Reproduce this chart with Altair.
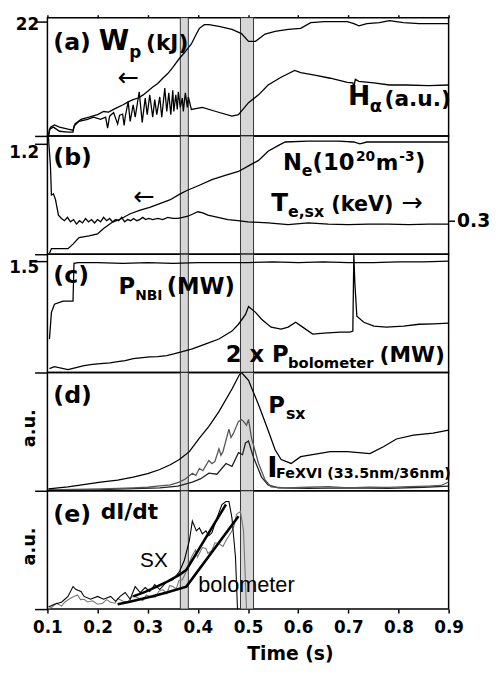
import altair as alt
import pandas as pd

# ---------------- shared ----------------
TIME_TICKS = [0.1, 0.2, 0.3, 0.4, 0.5, 0.6, 0.7, 0.8, 0.9]
BAND_START = [0.365, 0.485]
BAND_END = [0.381, 0.511]

# ---------------- (a) ----------------
WP_T = [0.102, 0.106, 0.114, 0.124, 0.141, 0.151, 0.155, 0.167, 0.183, 0.200, 0.212, 0.222, 0.232,
        0.242, 0.251, 0.262, 0.271, 0.281, 0.291, 0.300, 0.310, 0.320, 0.330, 0.340, 0.350, 0.363,
        0.373, 0.387, 0.397, 0.403, 0.413, 0.422, 0.442, 0.468, 0.487, 0.501, 0.515, 0.534, 0.554,
        0.580, 0.605, 0.625, 0.652, 0.698, 0.711, 0.721, 0.737, 0.762, 0.782, 0.810, 0.841, 0.869, 0.900]
WP_V = [0.0, 1.7, 2.1, 1.7, 1.3, 1.1, 2.3, 3.2, 3.6, 4.1, 4.7, 4.6, 5.1,
        5.6, 6.0, 6.6, 7.0, 7.3, 7.9, 8.6, 9.4, 10.1, 11.1, 12.0, 13.2, 14.9,
        16.0, 17.7, 19.6, 20.7, 21.4, 21.4, 21.1, 20.5, 19.7, 18.2, 18.2, 19.6, 20.1,
        20.5, 20.7, 21.8, 22.0, 22.0, 21.6, 21.2, 21.6, 21.8, 22.2, 21.8, 21.6, 21.6, 21.6]

HA_T = [0.102, 0.104, 0.112, 0.124, 0.141, 0.151, 0.153, 0.163, 0.180, 0.192, 0.206, 0.216, 0.220,
        0.224, 0.232, 0.240, 0.244, 0.250, 0.253, 0.255, 0.261, 0.265, 0.271, 0.275, 0.283, 0.289,
        0.295, 0.299, 0.304, 0.310, 0.314, 0.318, 0.324, 0.328, 0.334, 0.338, 0.342, 0.346, 0.350,
        0.352, 0.356, 0.359, 0.361, 0.365, 0.369, 0.371, 0.375, 0.379, 0.381, 0.387, 0.409, 0.436,
        0.468, 0.481, 0.501, 0.521, 0.540, 0.566, 0.593, 0.605, 0.633, 0.664, 0.698, 0.709, 0.711,
        0.714, 0.721, 0.751, 0.782, 0.815, 0.860, 0.900]
HA_V = [0.0, 1.3, 1.7, 0.9, 0.75, 0.75, 1.9, 2.8, 3.2, 3.6, 3.2, 3.6, 1.5,
        3.8, 4.5, 2.3, 4.0, 4.2, 2.0, 3.6, 6.6, 2.8, 6.0, 3.6, 8.5, 2.6,
        7.3, 4.1, 7.9, 3.6, 7.0, 4.1, 7.5, 3.6, 9.2, 4.7, 8.3, 4.1, 8.8,
        4.7, 7.9, 5.1, 8.5, 5.5, 7.3, 4.7, 8.3, 5.5, 7.5, 5.1, 5.5, 4.7,
        3.8, 4.1, 6.4, 7.9, 9.8, 11.3, 12.6, 12.2, 11.7, 11.1, 10.3, 10.2, 9.4,
        10.9, 10.5, 10.2, 9.8, 9.8, 9.7, 9.8]

# ---------------- (b) ----------------
NE_T = [0.104, 0.108, 0.141, 0.151, 0.163, 0.183, 0.200, 0.212, 0.230, 0.245, 0.265, 0.285, 0.304,
        0.324, 0.344, 0.363, 0.377, 0.403, 0.428, 0.456, 0.481, 0.501, 0.521, 0.540, 0.560, 0.574,
        0.619, 0.680, 0.711, 0.723, 0.737, 0.800, 0.900]
NE_V = [0.01, 0.06, 0.06, 0.11, 0.18, 0.20, 0.22, 0.28, 0.35, 0.38, 0.44, 0.48, 0.51,
        0.55, 0.59, 0.65, 0.69, 0.75, 0.81, 0.86, 0.90, 0.96, 1.02, 1.12, 1.18, 1.22,
        1.23, 1.23, 1.22, 1.20, 1.22, 1.22, 1.22]

TE_T = [0.102, 0.106, 0.108, 0.112, 0.116, 0.122, 0.128, 0.134, 0.140, 0.146, 0.152, 0.158, 0.164,
        0.170, 0.176, 0.182, 0.188, 0.194, 0.200, 0.206, 0.212, 0.218, 0.224, 0.230, 0.236, 0.242,
        0.248, 0.254, 0.260, 0.266, 0.272, 0.278, 0.284, 0.290, 0.296, 0.302, 0.310, 0.320, 0.330,
        0.340, 0.350, 0.360, 0.370, 0.380, 0.390, 0.400, 0.410, 0.420, 0.440, 0.460, 0.480, 0.500,
        0.540, 0.580, 0.620, 0.660, 0.700, 0.740, 0.780, 0.820, 0.860, 0.900]
TE_V = [1.05, 0.79, 0.53, 0.54, 0.49, 0.35, 0.32, 0.30, 0.33, 0.29, 0.31, 0.27, 0.30,
        0.28, 0.32, 0.29, 0.31, 0.28, 0.31, 0.29, 0.33, 0.30, 0.32, 0.29, 0.31, 0.30,
        0.33, 0.29, 0.31, 0.30, 0.32, 0.30, 0.31, 0.33, 0.31, 0.32, 0.31, 0.32, 0.31,
        0.33, 0.32, 0.32, 0.33, 0.34, 0.36, 0.38, 0.37, 0.35, 0.33, 0.31, 0.30, 0.29,
        0.28, 0.265, 0.28, 0.27, 0.265, 0.27, 0.27, 0.265, 0.27, 0.27]

# ---------------- (c) ----------------
PNBI_T = [0.104, 0.108, 0.114, 0.131, 0.151, 0.153, 0.161, 0.200, 0.250, 0.300, 0.350, 0.400,
          0.450, 0.500, 0.550, 0.600, 0.650, 0.700, 0.750, 0.800, 0.850, 0.900]
PNBI_V = [0.45, 0.81, 0.92, 0.96, 0.96, 1.47, 1.48, 1.48, 1.47, 1.48, 1.47, 1.48,
          1.48, 1.48, 1.49, 1.48, 1.49, 1.48, 1.48, 1.49, 1.49, 1.50]

PBOL_T = [0.104, 0.114, 0.141, 0.173, 0.190, 0.206, 0.225, 0.240, 0.255, 0.271, 0.290, 0.304, 0.320,
          0.338, 0.352, 0.367, 0.389, 0.416, 0.442, 0.468, 0.481, 0.495, 0.501, 0.515, 0.527, 0.546,
          0.566, 0.580, 0.595, 0.609, 0.629, 0.652, 0.684, 0.703, 0.709, 0.711, 0.713, 0.717, 0.731,
          0.751, 0.776, 0.810, 0.841, 0.870, 0.900]
PBOL_V = [0.053, 0.08, 0.04, 0.093, 0.11, 0.12, 0.13, 0.146, 0.16, 0.186, 0.20, 0.212, 0.215,
          0.226, 0.25, 0.279, 0.319, 0.385, 0.451, 0.558, 0.65, 0.783, 0.889, 0.81, 0.717, 0.611,
          0.584, 0.611, 0.677, 0.611, 0.518, 0.531, 0.544, 0.544, 0.558, 1.59, 1.208, 0.757, 0.677,
          0.624, 0.611, 0.624, 0.65, 0.655, 0.664]

# ---------------- (d) ----------------
PSX_T = [0.102, 0.141, 0.206, 0.240, 0.271, 0.300, 0.324, 0.345, 0.363, 0.383, 0.403, 0.422, 0.442,
         0.468, 0.483, 0.487, 0.501, 0.521, 0.540, 0.554, 0.566, 0.586, 0.605, 0.664, 0.698, 0.743,
         0.770, 0.796, 0.830, 0.869, 0.900]
PSX_V = [0.016, 0.033, 0.074, 0.090, 0.115, 0.145, 0.180, 0.220, 0.265, 0.331, 0.446, 0.545, 0.669,
         0.860, 0.983, 1.0, 0.934, 0.727, 0.512, 0.347, 0.264, 0.231, 0.289, 0.331, 0.331, 0.314,
         0.372, 0.438, 0.471, 0.488, 0.512]

FE1_T = [0.102, 0.150, 0.206, 0.240, 0.271, 0.300, 0.324, 0.345, 0.363, 0.375, 0.389, 0.396, 0.403,
         0.410, 0.422, 0.428, 0.434, 0.442, 0.446, 0.450, 0.462, 0.466, 0.470, 0.481, 0.487, 0.491,
         0.497, 0.501, 0.507, 0.521, 0.534, 0.546, 0.576, 0.620, 0.660, 0.700, 0.740, 0.780, 0.820,
         0.860, 0.885, 0.900]
FE1_V = [0.008, 0.012, 0.017, 0.020, 0.025, 0.030, 0.041, 0.050, 0.074, 0.10, 0.149, 0.13, 0.19,
         0.17, 0.256, 0.23, 0.248, 0.355, 0.30, 0.331, 0.521, 0.45, 0.479, 0.587, 0.60, 0.587,
         0.554, 0.603, 0.446, 0.231, 0.091, 0.033, 0.025, 0.03, 0.035, 0.025, 0.03, 0.028, 0.035,
         0.04, 0.045, 0.074]

FE2_T = [0.102, 0.206, 0.324, 0.360, 0.389, 0.405, 0.422, 0.438, 0.456, 0.468, 0.481, 0.489, 0.495,
         0.501, 0.511, 0.527, 0.540, 0.560, 0.620, 0.700, 0.780, 0.850, 0.900]
FE2_V = [0.008, 0.010, 0.025, 0.04, 0.074, 0.10, 0.149, 0.140, 0.231, 0.207, 0.322, 0.306, 0.405,
         0.421, 0.281, 0.116, 0.05, 0.025, 0.02, 0.025, 0.02, 0.03, 0.04]

# ---------------- (e) ----------------
SX_T = [0.102, 0.114, 0.128, 0.141, 0.151, 0.157, 0.167, 0.173, 0.186, 0.200, 0.212, 0.226, 0.236,
        0.245, 0.255, 0.265, 0.275, 0.285, 0.295, 0.304, 0.314, 0.324, 0.338, 0.350, 0.363, 0.373,
        0.383, 0.389, 0.397, 0.403, 0.409, 0.416, 0.422, 0.428, 0.438, 0.448, 0.456, 0.462, 0.468,
        0.475, 0.479]
SX_V = [0.017, 0.041, 0.058, 0.107, 0.19, 0.165, 0.149, 0.107, 0.083, 0.107, 0.083, 0.107, 0.066,
        0.107, 0.140, 0.083, 0.190, 0.140, 0.182, 0.149, 0.207, 0.165, 0.231, 0.248, 0.314, 0.413,
        0.579, 0.744, 0.661, 0.686, 0.636, 0.661, 0.620, 0.645, 0.769, 0.884, 0.909, 0.909, 0.769,
        0.438, 0.0]

BOL_T = [0.102, 0.110, 0.118, 0.128, 0.135, 0.145, 0.153, 0.160, 0.166, 0.173, 0.180, 0.190, 0.200,
         0.210, 0.218, 0.226, 0.235, 0.240, 0.251, 0.260, 0.270, 0.279, 0.290, 0.297, 0.304, 0.315,
         0.322, 0.330, 0.338, 0.344, 0.350, 0.357, 0.362, 0.369, 0.375, 0.380, 0.387, 0.395, 0.399,
         0.403, 0.409, 0.416, 0.420, 0.428, 0.434, 0.442, 0.450, 0.456, 0.462, 0.468, 0.472, 0.477,
         0.485, 0.491, 0.497]
BOL_V = [0.0, 0.02, 0.05, 0.025, 0.06, 0.09, 0.107, 0.12, 0.08, 0.083, 0.06, 0.07, 0.041,
         0.05, 0.08, 0.058, 0.05, 0.09, 0.066, 0.06, 0.11, 0.099, 0.07, 0.12, 0.107, 0.10,
         0.15, 0.165, 0.13, 0.20, 0.19, 0.17, 0.24, 0.248, 0.30, 0.36, 0.438, 0.50, 0.44,
         0.471, 0.52, 0.512, 0.47, 0.496, 0.56, 0.554, 0.53, 0.579, 0.62, 0.661, 0.70, 0.802,
         0.826, 0.661, 0.0]

SXFIT_T = [0.271, 0.295, 0.318, 0.340, 0.363, 0.377, 0.456]
SXFIT_V = [0.107, 0.145, 0.19, 0.235, 0.289, 0.331, 0.884]
BOLFIT_T = [0.240, 0.262, 0.285, 0.310, 0.338, 0.377, 0.481]
BOLFIT_V = [0.04, 0.06, 0.083, 0.108, 0.14, 0.19, 0.785]

# ---------------- helpers ----------------
W, H = 407, 120
FONT = "DejaVu Sans"
ONE = pd.DataFrame({"k": [0]})


def xenc(axis):
    return alt.X("t:Q", scale=alt.Scale(domain=[0.1, 0.9], nice=False, zero=False), axis=axis)


def bands(axis):
    df = pd.DataFrame({"t": BAND_START, "t2": BAND_END})
    return alt.Chart(df).mark_rect(fill="#d6d6d6", stroke="#333333", strokeWidth=1).encode(
        x=xenc(axis), x2="t2:Q")


def line(ts, vs, ymax, yaxis, xaxis, color="black", width=1.3):
    df = pd.DataFrame({"t": ts, "v": vs})
    return alt.Chart(df).mark_line(color=color, strokeWidth=width, clip=True).encode(
        x=xenc(xaxis),
        y=alt.Y("v:Q", scale=alt.Scale(domain=[0, ymax], nice=False, zero=False), axis=yaxis))


def txt(s, x, y, size, font=FONT, weight="bold", align="left"):
    return alt.Chart(ONE).mark_text(text=s, font=font, fontSize=size, fontWeight=weight,
                                    align=align, baseline="alphabetic", color="black").encode(
        x=alt.value(x), y=alt.value(y))


def left_axis(values, offset, fmt, title=None):
    kw = dict(values=values, format=fmt, tickSize=13, tickWidth=1.5, tickColor="black",
              labelExpr="datum.value == 0 ? '' : datum.label", labelFont=FONT,
              labelFontWeight="bold", labelFontSize=17, labelColor="black",
              labelPadding=-4, labelOffset=offset, domain=False, grid=False)
    if title:
        kw.update(title=title, titleX=-18, titleY=56, titleAngle=270, titleAlign="center",
                  titleBaseline="middle", titleFont=FONT, titleFontSize=18,
                  titleFontWeight="bold", titleColor="black")
    else:
        kw.update(title=None)
    return alt.Axis(**kw)


X_TOP = alt.Axis(orient="top", values=TIME_TICKS, labels=False, tickSize=3, tickWidth=1.5,
                 tickColor="black", domain=False, grid=False, title=None)
X_BOTTOM = alt.Axis(values=TIME_TICKS, format=".1f", tickSize=4, tickWidth=1.5, tickColor="black",
                    labelFont=FONT, labelFontWeight="bold", labelFontSize=17, labelColor="black",
                    labelFlush=False, labelOverlap=False,
                    labelPadding=7, domain=False, grid=False, title="Time (s)", titleFont=FONT,
                    titleFontSize=19, titleFontWeight="bold", titleColor="black", titleX=246,
                    titleY=51, titleAlign="center", titleBaseline="alphabetic")

# ---------------- panel (a) ----------------
ya = left_axis([0, 22], 3, "d")
pa = alt.layer(
    bands(X_TOP),
    line(WP_T, WP_V, 22.76, ya, X_TOP),
    line(HA_T, HA_V, 22.76, ya, X_TOP),
    txt("(a)", 6, 33, 24), txt("W", 52, 33, 28), txt("p", 83, 41, 17), txt("(kJ)", 100, 33, 22),
    txt("←", 82, 69, 26, weight="normal", align="center"),
    txt("H", 305, 89, 27), txt("α", 327, 96, 18), txt("(a.u.)", 342, 90, 22),
).properties(width=W, height=H)

# ---------------- panel (b) ----------------
yb = left_axis([0, 1.2], 9, ".1f")
yb_r = alt.Axis(orient="right", values=[0.3], format=".1f", tickSize=6, tickWidth=1.5,
                tickColor="black", labelFont=FONT, labelFontWeight="bold", labelFontSize=19,
                labelColor="black", labelPadding=2, domain=False, grid=False, title=None)
pb = alt.layer(
    bands(None),
    line(NE_T, NE_V, 1.286, yb, None),
    line(TE_T, TE_V, 1.059, yb_r, None),
    txt("(b)", 6, 29, 24),
    txt("N", 239, 35, 23), txt("e", 258, 41, 16), txt("(10", 269, 35, 23), txt("20", 313, 25, 14),
    txt("m", 333, 35, 22), txt("-3", 357, 25, 14), txt(")", 373, 35, 23),
    txt("←", 98, 70, 26, weight="normal", align="center"),
    txt("T", 227, 76, 25), txt("e,sx", 244, 82, 16), txt("(keV)", 288, 76, 21),
    txt("→", 370, 76, 26, weight="normal", align="center"),
).resolve_scale(y="independent").properties(width=W, height=H)

# ---------------- panel (c) ----------------
yc = left_axis([0, 1.5], 7, ".1f")
pc = alt.layer(
    bands(None),
    line(PNBI_T, PNBI_V, 1.593, yc, None),
    line(PBOL_T, PBOL_V, 1.593, yc, None),
    txt("(c)", 6, 29, 24),
    txt("P", 72, 40, 23), txt("NBI", 89, 46, 14), txt("(MW)", 121, 40, 23),
    txt("2 x P", 181, 109, 23), txt("bolometer", 244, 115, 15), txt("(MW)", 337, 109, 22),
).properties(width=W, height=H)

# ---------------- panel (d) ----------------
yd = left_axis([0], 0, ".1f", "a.u.")
pdd = alt.layer(
    bands(None),
    line(FE2_T, FE2_V, 1.0, yd, None, color="#222222"),
    line(FE1_T, FE1_V, 1.0, yd, None, color="#555555"),
    line(PSX_T, PSX_V, 1.0, yd, None),
    txt("(d)", 6, 31, 24),
    txt("P", 224, 41, 23), txt("sx", 242, 47, 16),
    txt("I", 223, 106, 28), txt("FeXVI (33.5nm/36nm)", 232, 107, 14.5),
).properties(width=W, height=H)

# ---------------- panel (e) ----------------
ye = left_axis([0], 0, ".1f", "a.u.")
pe = alt.layer(
    bands(X_BOTTOM),
    line(BOL_T, BOL_V, 1.0, ye, X_BOTTOM, color="#777777", width=1.1),
    line(SX_T, SX_V, 1.0, ye, X_BOTTOM, width=1.1),
    line(SXFIT_T, SXFIT_V, 1.0, ye, X_BOTTOM, width=2.6),
    line(BOLFIT_T, BOLFIT_V, 1.0, ye, X_BOTTOM, width=2.6),
    txt("(e)", 6, 32, 24), txt("dI/dt", 54, 29, 22),
    txt("SX", 94, 77, 21, font="Liberation Sans", weight="normal"),
    txt("bolometer", 153, 103, 22, font="Liberation Sans", weight="normal"),
).properties(width=W, height=H)

chart = alt.vconcat(pa, pb, pc, pdd, pe, spacing=0, bounds="flush").properties(
    padding=0, background="white"
).configure_view(stroke="black", strokeWidth=1.5)

chart.save("out.html", embed_options={"renderer": "svg", "actions": False})
